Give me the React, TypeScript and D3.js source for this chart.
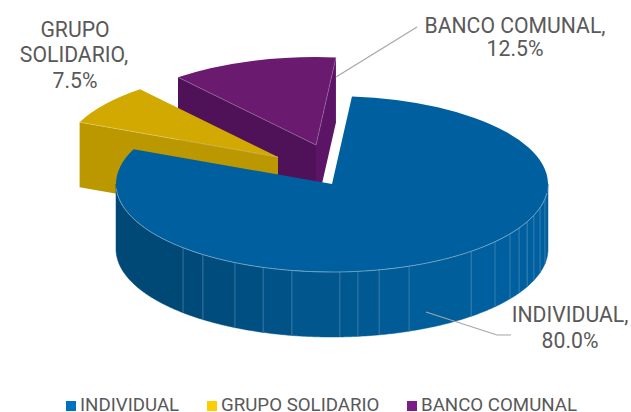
import React from "react";
import * as d3 from "d3";

const categories = ["INDIVIDUAL", "GRUPO SOLIDARIO", "BANCO COMUNAL"];
const values = [80, 7.5, 12.5];
const percentLabels = ["80.0%", "7.5%", "12.5%"];
const topColors = ["#00609f", "#d1a900", "#6a1b70"];
const legendColors = ["#0070c0", "#ffcc00", "#7a1f87"];
// Facet boundaries on the rim of the big slice, degrees clockwise from 12 o'clock
const facetAngles = [99.6, 105.6, 110.8, 115.4, 120, 124.5, 131, 139.9, 159.1, 167.4, 173.1, 177.9, 190.7, 198.6, 206.7, 216.7, 223.6];

const W = 631, H = 412;
const RX = 216, RY = 88, DEPTH = 65;
const START = (5.3 * Math.PI) / 180;
const centers = [
  { x: 332, y: 184 },
  { x: 278, y: 157 },
  { x: 316, y: 145 },
];
const FONT = "Roboto, sans-serif";

const pie = d3.pie<number>().sort(null).startAngle(START).endAngle(START + 2 * Math.PI);
const arcs = pie(values);
const arcGen = d3.arc<any>().innerRadius(0).outerRadius(RX);

const pt = (c: { x: number; y: number }, a: number, dy = 0): [number, number] => [
  c.x + RX * Math.sin(a),
  c.y - RY * Math.cos(a) + dy,
];
const poly = (ps: [number, number][]) => d3.line()(ps) + "Z";

function topFace(i: number) {
  const c = centers[i];
  return (
    <path
      d={arcGen(arcs[i]) as string}
      transform={`translate(${c.x},${c.y}) scale(1,${RY / RX})`}
      fill={topColors[i]}
      stroke="none"
    />
  );
}

function radialWall(i: number, a: number, fill: string) {
  const c = centers[i];
  return <path d={poly([pt(c, a), pt(c, a, DEPTH), [c.x, c.y + DEPTH], [c.x, c.y]])} fill={fill} />;
}

const deg = (d: number) => (d * Math.PI) / 180;
const shade = d3
  .scaleLinear<string>()
  .domain([140, 180, 225])
  .range(["#00609f", "#00578f", "#004876"])
  .clamp(true);

function blueWall() {
  const c = centers[0];
  const bounds = [90, ...facetAngles, 270];
  const rim = (from: number, to: number) => {
    const as = d3.range(from, to, 0.5).concat(to).map(deg);
    const up = as.map((a) => pt(c, a));
    const dn = as.map((a) => pt(c, a, DEPTH)).reverse();
    return poly([...up, ...dn]);
  };
  return (
    <g>
      {bounds.slice(0, -1).map((s, i) => {
        const mid = i === bounds.length - 2 ? 270 : (s + bounds[i + 1]) / 2;
        return <path key={s} d={rim(s, bounds[i + 1])} fill={shade(mid)} stroke={shade(mid)} strokeWidth={0.5} />;
      })}
      {facetAngles.map((f) => {
        const a = deg(f);
        const [x, y0] = pt(c, a);
        const [, y1] = pt(c, a, DEPTH);
        return <line key={f} x1={x} x2={x} y1={y0} y2={y1} stroke="#6f9fc0" strokeOpacity={0.7} strokeWidth={0.7} />;
      })}
    </g>
  );
}

const labelStyle = { fontFamily: FONT, fontSize: 21.2, fill: "#595959", textAnchor: "middle" as const };
const legendStyle = { fontFamily: FONT, fontSize: 18.7, fill: "#595959" };
const legendX = [66, 207, 407];
const comma = (i: number) => categories[i] + ",";

export default function App() {
  return (
    <svg
      width={W}
      height={H}
      viewBox={`0 0 ${W} ${H}`}
      style={{ position: "absolute", left: 0, top: 0, background: "#fff" }}
    >
      {/* Banco comunal */}
      {radialWall(2, arcs[2].startAngle, "#4f1157")}
      {radialWall(2, arcs[2].endAngle, "#5c1566")}
      {topFace(2)}
      {/* Grupo solidario */}
      {radialWall(1, arcs[1].startAngle, "#bb9800")}
      {topFace(1)}
      <path
        d={d3.line()([pt(centers[1], arcs[1].startAngle), [centers[1].x, centers[1].y]]) as string}
        stroke="#e3cf7a"
        strokeWidth={0.6}
        fill="none"
      />
      <path
        d={d3.line()([pt(centers[2], arcs[2].startAngle), [centers[2].x, centers[2].y], pt(centers[2], arcs[2].endAngle)]) as string}
        stroke="#9a6ea0"
        strokeWidth={0.6}
        fill="none"
      />
      {/* Individual */}
      {blueWall()}
      {topFace(0)}
      <path
        d={d3.line()(d3.range(96, 268, 1).map((d) => pt(centers[0], deg(d)))) as string}
        fill="none"
        stroke="#8fb6d2"
        strokeWidth={0.7}
      />

      {/* Leader lines */}
      <polyline points="336,77 417,27" fill="none" stroke="#a6a6a6" strokeWidth={1.2} />
      <polyline points="426,312 497,335 511,335" fill="none" stroke="#a6a6a6" strokeWidth={1.2} />

      {/* Labels */}
      <text {...labelStyle} x={515} y={33}>{comma(2)}</text>
      <text {...labelStyle} x={515} y={56}>{percentLabels[2]}</text>
      <text {...labelStyle} x={75} y={37}>GRUPO</text>
      <text {...labelStyle} x={74} y={62}>SOLIDARIO,</text>
      <text {...labelStyle} x={75} y={88}>{percentLabels[1]}</text>
      <text {...labelStyle} x={570} y={322}>{comma(0)}</text>
      <text {...labelStyle} x={570} y={348}>{percentLabels[0]}</text>

      {/* Legend */}
      {categories.map((c, i) => (
        <g key={c}>
          <rect x={legendX[i]} y={401} width={10} height={10} fill={legendColors[i]} />
          <text {...legendStyle} x={legendX[i] + 14} y={411}>{c}</text>
        </g>
      ))}
    </svg>
  );
}
